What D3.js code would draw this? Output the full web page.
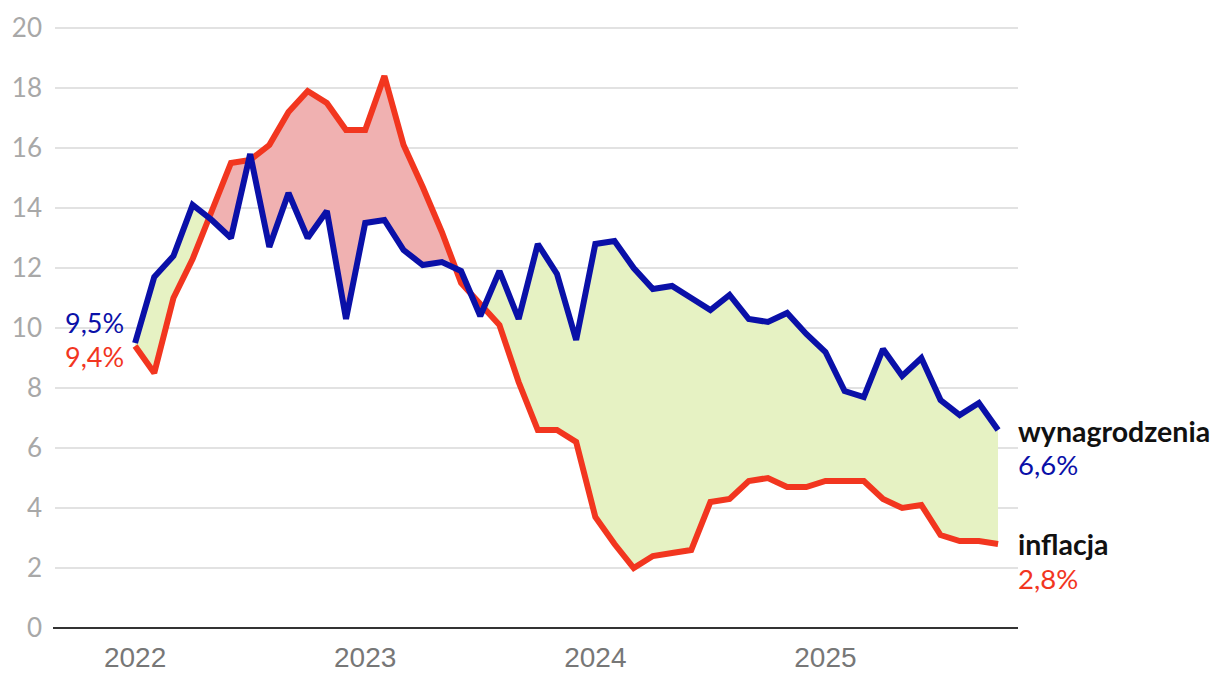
<!DOCTYPE html>
<html><head><meta charset="utf-8">
<script src="https://cdn.jsdelivr.net/npm/d3@7"></script>
<style>body{margin:0;background:#fff}svg{display:block}</style>
</head><body>
<svg id="c" width="1220" height="684"></svg>
<script>
const wages = [9.5, 11.7, 12.4, 14.1, 13.6, 13.0, 15.8, 12.7, 14.5, 13.0, 13.9, 10.3, 13.5, 13.6, 12.6, 12.1, 12.2, 11.9, 10.4, 11.9, 10.3, 12.8, 11.8, 9.6, 12.8, 12.9, 12.0, 11.3, 11.4, 11.0, 10.6, 11.1, 10.3, 10.2, 10.5, 9.8, 9.2, 7.9, 7.7, 9.3, 8.4, 9.0, 7.6, 7.1, 7.5, 6.6];
const inflation = [9.4, 8.5, 11.0, 12.3, 13.9, 15.5, 15.6, 16.1, 17.2, 17.9, 17.5, 16.6, 16.6, 18.4, 16.1, 14.7, 13.2, 11.5, 10.8, 10.1, 8.2, 6.6, 6.6, 6.2, 3.7, 2.8, 2.0, 2.4, 2.5, 2.6, 4.2, 4.3, 4.9, 5.0, 4.7, 4.7, 4.9, 4.9, 4.9, 4.3, 4.0, 4.1, 3.1, 2.9, 2.9, 2.8];
const yearLabels = ["2022", "2023", "2024", "2025"];
const yTicks = [0, 2, 4, 6, 8, 10, 12, 14, 16, 18, 20];
const startLabels = ["9,5%", "9,4%"];
const endNames = ["wynagrodzenia", "inflacja"];
const endValues = ["6,6%", "2,8%"];

const BLUE = "#0a10a8", RED = "#f2361f";
const svg = d3.select("#c");
const x = d3.scaleLinear().domain([-4.28, 46.04]).range([53, 1018]);
const y = d3.scaleLinear().domain([0, 20]).range([628, 28]);
const data = wages.map((w, i) => ({i, w, f: inflation[i]}));

// grid
svg.append("g").selectAll("line").data(yTicks.filter(t => t > 0)).join("line")
  .attr("x1", 55).attr("x2", 1018).attr("y1", d => y(d)).attr("y2", d => y(d))
  .attr("stroke", "#e2e2e2").attr("stroke-width", 2);
svg.append("g").selectAll("text").data(yTicks).join("text")
  .attr("x", 42).attr("y", d => y(d)).attr("dy", "0.36em").attr("text-anchor", "end")
  .attr("font-family", "Lato").attr("font-size", 26).attr("fill", "#a8a8a8").text(d => d);

// fills
const defs = svg.append("defs");
defs.append("clipPath").attr("id", "above").append("path")
  .attr("d", d3.area().x(d => x(d.i)).y0(d => y(d.w)).y1(0)(data));
defs.append("clipPath").attr("id", "below").append("path")
  .attr("d", d3.area().x(d => x(d.i)).y0(d => y(d.w)).y1(684)(data));
const between = d3.area().x(d => x(d.i)).y0(d => y(d.w)).y1(d => y(d.f));
svg.append("path").attr("d", between(data)).attr("fill", "#f0b1b1").attr("clip-path", "url(#above)");
svg.append("path").attr("d", between(data)).attr("fill", "#e6f2c3").attr("clip-path", "url(#below)");

// axis
svg.append("line").attr("x1", 53).attr("x2", 1018).attr("y1", y(0)).attr("y2", y(0))
  .attr("stroke", "#333").attr("stroke-width", 2);
svg.append("g").selectAll("text").data(yearLabels).join("text")
  .attr("x", (d, k) => x(k * 12)).attr("y", 667).attr("text-anchor", "middle")
  .attr("font-family", "Liberation Sans").attr("font-size", 28).attr("fill", "#777").text(d => d);

// lines
const lineW = d3.line().x(d => x(d.i)).y(d => y(d.w));
const lineF = d3.line().x(d => x(d.i)).y(d => y(d.f));
svg.append("path").attr("d", lineF(data)).attr("fill", "none").attr("stroke", RED)
  .attr("stroke-width", 6).attr("stroke-linejoin", "miter").attr("stroke-miterlimit", 2);
svg.append("path").attr("d", lineW(data)).attr("fill", "none").attr("stroke", BLUE)
  .attr("stroke-width", 6).attr("stroke-linejoin", "miter").attr("stroke-miterlimit", 2);

// labels
const lab = (tx, ty, txt, col, bold, anchor, size) => svg.append("text").attr("x", tx).attr("y", ty)
  .attr("text-anchor", anchor || "start").attr("font-family", "Lato").attr("font-size", size)
  .attr("font-weight", bold ? 700 : 400).attr("fill", col).text(txt);
lab(x(0) - 11, 333, startLabels[0], BLUE, false, "end", 27);
lab(x(0) - 11, 367, startLabels[1], RED, false, "end", 27);
lab(1018, 442, endNames[0], "#111", true, "start", 28.5);
lab(1018, 475, endValues[0], BLUE, false, "start", 27.5);
lab(1018, 555, endNames[1], "#111", true, "start", 28.5);
lab(1018, 589, endValues[1], RED, false, "start", 27.5);
</script>
</body></html>
